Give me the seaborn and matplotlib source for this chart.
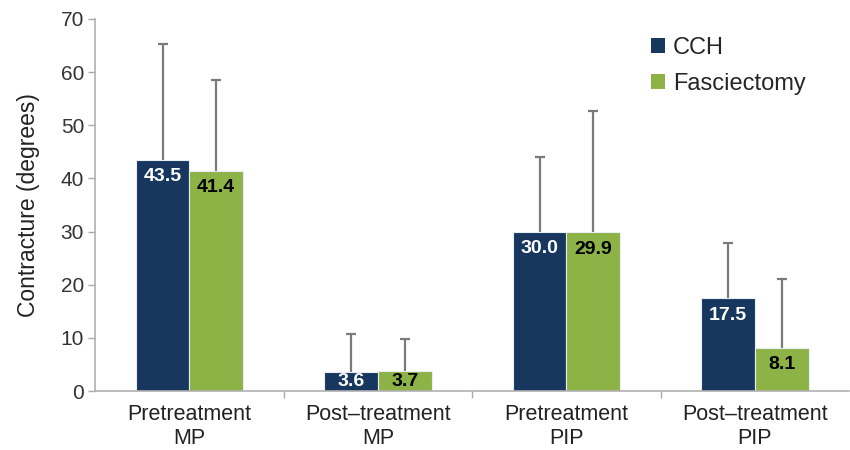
import matplotlib
matplotlib.use("Agg")
import matplotlib.pyplot as plt
import seaborn as sns
import pandas as pd
import numpy as np

categories = ["Pretreatment\nMP", "Post\u2013treatment\nMP", "Pretreatment\nPIP", "Post\u2013treatment\nPIP"]
groups = ["CCH", "Fasciectomy"]
cch_mean = [43.5, 3.6, 30.0, 17.5]
fas_mean = [41.4, 3.7, 29.9, 8.1]
cch_sd = [21.8, 7.1, 14.0, 10.4]
fas_sd = [17.1, 6.0, 22.8, 13.0]

colors = ["#17375E", "#8DB347"]

sns.set_theme(style="white")
plt.rcParams["font.family"] = ["Liberation Sans", "DejaVu Sans"]

df = pd.DataFrame({
    "category": categories * 2,
    "group": [groups[0]] * 4 + [groups[1]] * 4,
    "value": cch_mean + fas_mean,
})

fig = plt.figure(figsize=(8.5, 4.5), dpi=100)
ax = fig.add_axes([0.112, 0.131, 0.887, 0.827])

sns.barplot(data=df, x="category", y="value", hue="group", hue_order=groups,
            palette=colors, width=0.57, errorbar=None, ax=ax,
            edgecolor="#E8EEF4", linewidth=0.8, saturation=1)

ax.set_ylim(0, 70)
ax.set_xlim(-0.5, 3.5)

bar_containers = list(ax.containers)
sds = [cch_sd, fas_sd]
label_colors = ["white", "black"]
px_per_unit = ax.get_window_extent().height / 70.0
for i, cont in enumerate(bar_containers):
    xs = [p.get_x() + p.get_width() / 2 for p in cont.patches]
    hs = [p.get_height() for p in cont.patches]
    eb = ax.errorbar(xs, hs, yerr=[np.zeros(len(hs)), sds[i]], fmt="none",
                     ecolor="#7A7A7A", elinewidth=1.6, capsize=3.5, capthick=1.6, zorder=1)
    # keep only the upper caps
    caps = eb[1]
    if len(caps) == 2:
        caps[0].remove()
    for x, h in zip(xs, hs):
        bar_px = h * px_per_unit
        off_px = min(17.0, bar_px / 2.0)
        ax.annotate(f"{h:.1f}", xy=(x, h), xytext=(0, -off_px * 72 / 100.0),
                    textcoords="offset points", ha="center", va="center",
                    color=label_colors[i], fontsize=14, fontweight="bold", zorder=5)

ax.set_yticks(range(0, 71, 10))
ax.set_ylabel("Contracture (degrees)", fontsize=16.5, color="#222222", labelpad=15)
ax.set_xlabel("")
ax.tick_params(axis="y", labelsize=15, colors="#333333", length=5, width=1, color="#AAAAAA", left=True, pad=3)
ax.tick_params(axis="x", labelsize=15.5, colors="#222222", length=0, pad=9)
ax.set_xticks([0.5, 1.5, 2.5], minor=True)
ax.tick_params(axis="x", which="minor", length=5, width=1, color="#AAAAAA", bottom=True)

for s in ["top", "right"]:
    ax.spines[s].set_visible(False)
for s in ["left", "bottom"]:
    ax.spines[s].set_color("#B0B0B0")
    ax.spines[s].set_linewidth(1.2)

leg = ax.legend(loc="upper right", bbox_to_anchor=(0.955, 0.977), frameon=False, fontsize=17,
                handlelength=0.6, handleheight=0.6, handletextpad=0.35, labelspacing=0.6,
                borderaxespad=0)
for h in leg.legend_handles:
    h.set_edgecolor("none")

fig.savefig("out.png", dpi=100)
